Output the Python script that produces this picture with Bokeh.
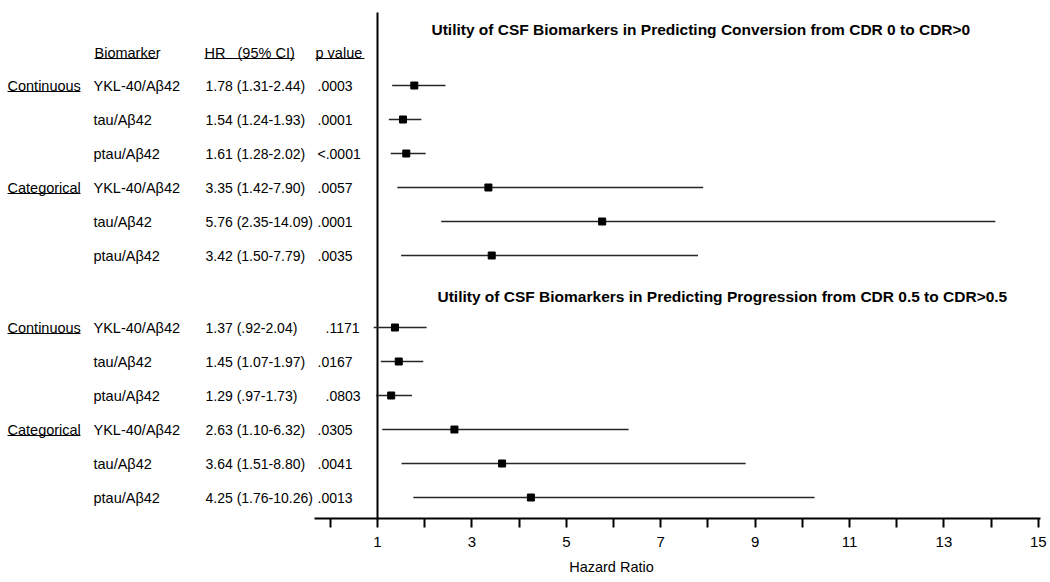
from bokeh.plotting import figure
from bokeh.models import ColumnDataSource, Range1d, FixedTicker
from bokeh.core.properties import value
from bokeh.embed import file_html
from bokeh.resources import INLINE

# ---------------- data ----------------
biomarkers = ["YKL-40/Aβ42", "tau/Aβ42", "ptau/Aβ42"] * 4
groups = ["Continuous", "", "", "Categorical", "", ""] * 2
hr = [1.78, 1.54, 1.61, 3.35, 5.76, 3.42, 1.37, 1.45, 1.29, 2.63, 3.64, 4.25]
ci_lo = [1.31, 1.24, 1.28, 1.42, 2.35, 1.50, 0.92, 1.07, 0.97, 1.10, 1.51, 1.76]
ci_hi = [2.44, 1.93, 2.02, 7.90, 14.09, 7.79, 2.04, 1.97, 1.73, 6.32, 8.80, 10.26]
hr_text = ["1.78 (1.31-2.44)", "1.54 (1.24-1.93)", "1.61 (1.28-2.02)",
           "3.35 (1.42-7.90)", "5.76 (2.35-14.09)", "3.42 (1.50-7.79)",
           "1.37 (.92-2.04)", "1.45 (1.07-1.97)", "1.29 (.97-1.73)",
           "2.63 (1.10-6.32)", "3.64 (1.51-8.80)", "4.25 (1.76-10.26)"]
p_text = [".0003", ".0001", "<.0001", ".0057", ".0001", ".0035",
          ".1171", ".0167", ".0803", ".0305", ".0041", ".0013"]
titles = ["Utility of CSF Biomarkers in Predicting Conversion from CDR 0 to CDR>0",
          "Utility of CSF Biomarkers in Predicting Progression from CDR 0.5 to CDR>0.5"]
headers = ["Biomarker", "HR\u00a0\u00a0\u00a0(95% CI)", "p value"]
ticks = list(range(0, 16))
tick_labels = {t: (str(t) if t % 2 == 1 else "") for t in ticks}
axis_title = "Hazard Ratio"
ref_value = 1

# ---------------- layout helpers ----------------
W, H = 1050, 582
X1_PX, UNIT_PX = 377.0, 47.2      # image x of HR=1, pixels per HR unit
ROW0_PX, ROW_PX = 85.0, 34.0      # image y of first row, row spacing
AXIS_PX = 518


def px_x(ix):
    return 1 + (ix - X1_PX) / UNIT_PX


def py_r(iy):
    return (iy - ROW0_PX) / ROW_PX


SECTION2_START = py_r(327)
rows = [float(i) for i in range(6)] + [SECTION2_START + i for i in range(6)]

FONT = value("Liberation Sans")
FS = "14.5px"
FS_NUM = "14px"

p = figure(width=W, height=H, output_backend="svg", toolbar_location=None,
           x_range=Range1d(px_x(0), px_x(W)),
           y_range=Range1d(py_r(H), py_r(0)),
           y_axis_location=None,
           min_border_left=0, min_border_right=0, min_border_top=0,
           min_border_bottom=0)
p.outline_line_color = None
p.xgrid.visible = False
p.ygrid.visible = False
p.background_fill_color = "white"
p.border_fill_color = "white"

# x axis, drawn at a fixed location inside the frame
ax = p.xaxis[0]
ax.fixed_location = py_r(AXIS_PX)
ax.ticker = FixedTicker(ticks=ticks)
ax.major_label_overrides = tick_labels
ax.bounds = (px_x(314), px_x(1040))
ax.axis_line_width = 2
ax.axis_line_color = "black"
ax.major_tick_line_width = 2
ax.major_tick_line_color = "black"
ax.major_tick_in = 0
ax.major_tick_out = 9
ax.minor_tick_line_color = None
ax.major_label_text_font = "Liberation Sans"
ax.major_label_text_font_size = "15px"
ax.major_label_text_color = "black"
ax.major_label_standoff = 9

# axis title
p.text(x=[px_x(611)], y=[py_r(566)], text=[axis_title], text_font=FONT,
       text_font_size=FS, text_color="black", text_align="center",
       text_baseline="middle")

# reference line at HR = 1
p.segment(x0=[ref_value], y0=[py_r(12)], x1=[ref_value], y1=[py_r(AXIS_PX)],
          line_color="black", line_width=2)

src = ColumnDataSource(dict(row=rows, hr=hr, lo=ci_lo, hi=ci_hi, bio=biomarkers,
                            grp=groups, hrt=hr_text, pt=p_text))

# CI lines and point estimates
p.segment(x0="lo", y0="row", x1="hi", y1="row", source=src,
          line_color="#262626", line_width=1.5)
p.scatter(x="hr", y="row", source=src, marker="square", size=7,
          fill_color="black", line_color="black")

# table text
txt = dict(text_font=FONT, text_font_size=FS, text_color="black",
           text_baseline="middle", text_align="left")
txt_num = dict(txt, text_font_size=FS_NUM)
p.text(x=px_x(7), y="row", text="grp", source=src, **txt)
p.text(x=px_x(93), y="row", text="bio", source=src, **txt)
p.text(x=px_x(205), y="row", text="hrt", source=src, **txt_num)
p_x = [px_x(317)] * 6 + [px_x(325), px_x(317), px_x(325), px_x(317), px_x(317), px_x(317)]
p.text(x=p_x, y=rows, text=p_text, **txt_num)

# header
hdr_x = [px_x(94), px_x(204), px_x(315)]
hdr_y = [py_r(52)] * 3
p.text(x=hdr_x, y=hdr_y, text=headers, **txt)

# underlines (header + group labels)
ul_x0 = [px_x(94), px_x(204), px_x(315), px_x(7), px_x(7), px_x(7), px_x(7)]
ul_x1 = [px_x(157), px_x(294), px_x(364), px_x(80), px_x(80), px_x(80), px_x(80)]
ul_y = [py_r(58)] * 3 + [r + 6 / ROW_PX for r in (rows[0], rows[3], rows[6], rows[9])]
p.segment(x0=ul_x0, y0=ul_y, x1=ul_x1, y1=ul_y, line_color="black", line_width=1)

# section titles
p.text(x=[px_x(431), px_x(437)], y=[py_r(29), py_r(296)], text=titles,
       text_font=FONT, text_font_size="15.5px", text_font_style="bold",
       text_color="black", text_baseline="middle", text_align="left")

open("out.html", "w").write(file_html(p, INLINE))
